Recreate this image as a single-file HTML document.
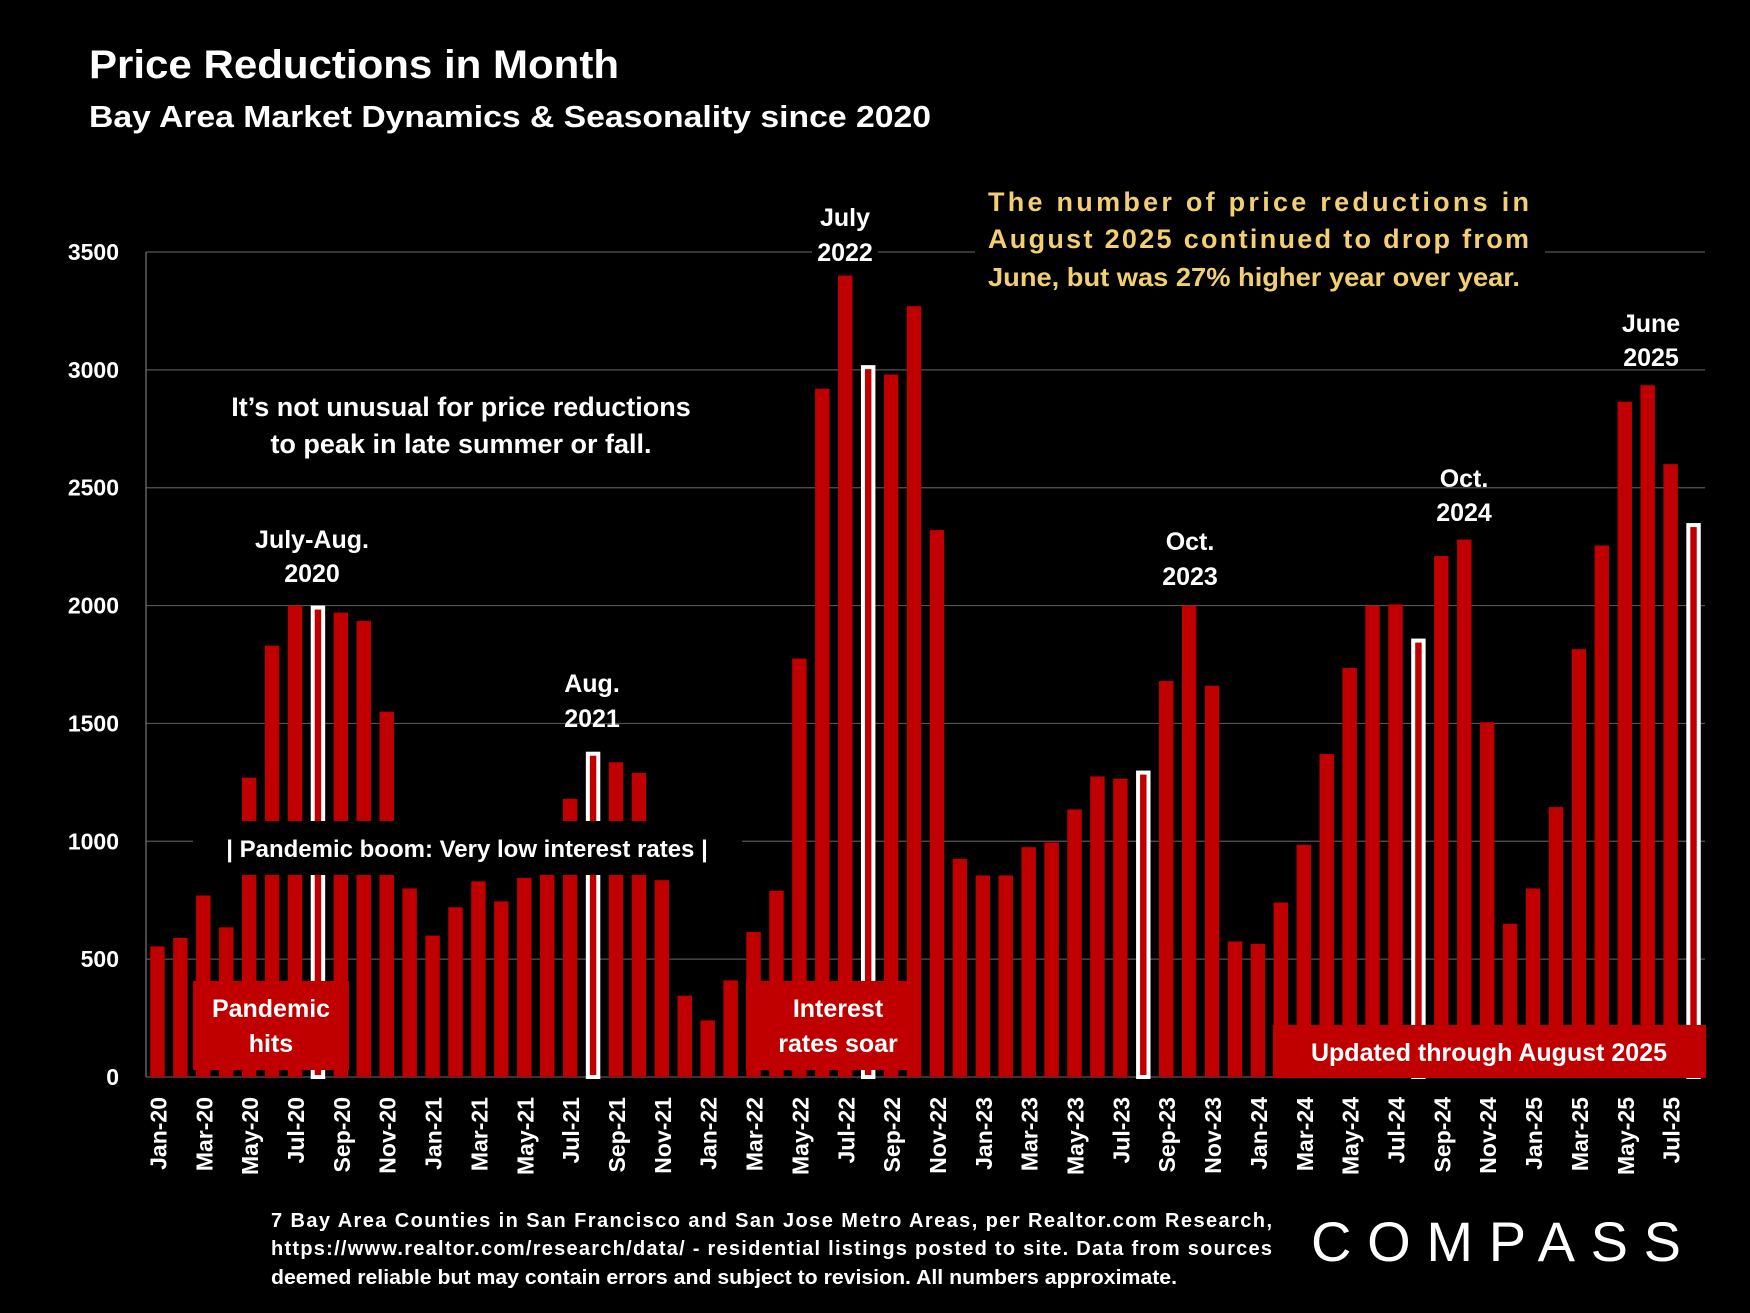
<!DOCTYPE html>
<html><head><meta charset="utf-8"><style>
html,body{margin:0;padding:0;background:#000;}
svg{display:block;font-family:"Liberation Sans",sans-serif;font-weight:bold;}
</style></head><body>
<svg id="chart" width="1750" height="1313" viewBox="0 0 1750 1313" xmlns="http://www.w3.org/2000/svg">
<rect width="1750" height="1313" fill="#000"/>
<text x="89" y="78" font-size="40" fill="#fff" textLength="530" lengthAdjust="spacingAndGlyphs">Price Reductions in Month</text>
<text x="89" y="127" font-size="31" fill="#fff" textLength="842" lengthAdjust="spacingAndGlyphs">Bay Area Market Dynamics &amp; Seasonality since 2020</text>
<g id="grid"></g>
<g id="bars"></g>
<g id="xlabels"></g>
<g id="ylabels"></g>
<g id="annot"></g>
<g font-size="20" fill="#fff">
<text x="271" y="1227" textLength="1001" lengthAdjust="spacing">7 Bay Area Counties in San Francisco and San Jose Metro Areas, per Realtor.com Research,</text>
<text x="271" y="1255" textLength="1001" lengthAdjust="spacing">https://www.realtor.com/research/data/ - residential listings posted to site.  Data from sources</text>
<text x="271" y="1284" textLength="906" lengthAdjust="spacingAndGlyphs">deemed reliable but may contain errors and subject to revision. All numbers approximate.</text>
</g>
<text x="1311" y="1261" font-size="56" font-weight="normal" fill="#fff" textLength="370" lengthAdjust="spacing">COMPASS</text>
</svg>
<script>
const months = ["Jan","Feb","Mar","Apr","May","Jun","Jul","Aug","Sep","Oct","Nov","Dec"];
const categories = [];
for (let y = 20; y <= 25; y++) for (let m = 0; m < 12; m++) { if (y === 25 && m > 7) break; categories.push(months[m] + "-" + y); }
const values2020 = [554, 590, 770, 635, 1270, 1830, 2000, 2000, 1970, 1935, 1550, 800];
const values2021 = [600, 720, 830, 745, 845, 860, 1180, 1380, 1335, 1290, 835, 345];
const values2022 = [240, 410, 615, 790, 1775, 2920, 3400, 3020, 2980, 3270, 2320, 925];
const values2023 = [855, 855, 975, 995, 1135, 1275, 1265, 1300, 1680, 2000, 1660, 575];
const values2024 = [565, 740, 985, 1370, 1735, 2000, 2005, 1860, 2210, 2280, 1505, 650];
const values2025 = [800, 1145, 1815, 2255, 2865, 2935, 2600, 2350];
const values = values2020.concat(values2021, values2022, values2023, values2024, values2025);
const yTicks = [0, 500, 1000, 1500, 2000, 2500, 3000, 3500];

const NS = "http://www.w3.org/2000/svg";
const X0 = 146, X1 = 1705, Y0 = 1077, Y1 = 252, YMAX = 3500;
const slot = (X1 - X0) / categories.length;
function xScale(i) { return X0 + slot * (i + 0.5); }
function yScale(v) { return Y0 - v * (Y0 - Y1) / YMAX; }
function mk(tag, attrs, parent) { const e = document.createElementNS(NS, tag); for (const k in attrs) e.setAttribute(k, attrs[k]); parent.appendChild(e); return e; }

const grid = document.getElementById("grid");
yTicks.forEach(t => {
  const l = mk("line", {x1: X0, x2: X1, y1: yScale(t), y2: yScale(t), stroke: "#555", "stroke-width": 1.2}, grid);
  
  
  const tx = mk("text", {x: 119, y: yScale(t) + 8, "text-anchor": "end", "font-size": 23, fill: "#fff"}, document.getElementById("ylabels"));
  tx.textContent = t;
  
  
});
const ax = mk("line", {x1: X0, x2: X0, y1: Y1, y2: Y0, stroke: "#777", "stroke-width": 1.2}, grid);



const barsG = document.getElementById("bars");
const bw = slot * 0.63;
values.forEach((v, i) => {
  const hl = categories[i].startsWith("Aug");
  const x = xScale(i) - bw / 2, y = yScale(v);
  let r;
  if (hl) r = mk("rect", {x: x + 2, y: y + 2, width: bw - 4, height: Y0 - y - 2, fill: "#c00000", stroke: "#fff", "stroke-width": 4}, barsG);
  else r = mk("rect", {x: x, y: y, width: bw, height: Y0 - y, fill: "#c00000"}, barsG);
  
  
  if (i % 2 === 0) {
    const cx = xScale(i) + 9;
    const t = mk("text", {x: cx, y: 1097, "text-anchor": "end", "font-size": 23, fill: "#fff", transform: "rotate(-90 " + cx + " 1097)"}, document.getElementById("xlabels"));
    t.textContent = categories[i];
    
    
  }
});

const an = document.getElementById("annot");
function txt(s, x, y, size, fill, name, extra) {
  const t = mk("text", Object.assign({x: x, y: y, "text-anchor": "middle", "font-size": size, fill: fill}, extra || {}), an);
  t.textContent = s;
  
  
  return t;
}
function box(x, y, w, h, fill, name) {
  const r = mk("rect", {x: x, y: y, width: w, height: h, fill: fill}, an);
  
  
}
box(193, 821, 549, 54, "#000", "pandemic-boom-band");
txt("| Pandemic boom: Very low interest rates |", 467, 857, 24, "#fff", "pandemic-boom-label");
box(193, 981, 156, 89, "#c00000", "pandemic-hits-box");
txt("Pandemic", 271, 1017, 25, "#fff", "pandemic-hits-label");
txt("hits", 271, 1052, 25, "#fff", "pandemic-hits-label-2");
box(746, 981, 175, 89, "#c00000", "interest-rates-box");
txt("Interest", 838, 1017, 25, "#fff", "interest-rates-label");
txt("rates soar", 838, 1052, 25, "#fff", "interest-rates-label-2");
box(1273, 1025, 433, 53, "#c00000", "updated-box");
txt("Updated through August 2025", 1489, 1061, 25, "#fff", "updated-label");
box(812, 238, 66, 28, "#000", "july-2022-bg");
txt("July", 845, 226, 25, "#fff", "july-2022-label");
txt("2022", 845, 261, 25, "#fff", "july-2022-label-2");
txt("July-Aug.", 312, 548, 25, "#fff", "july-aug-2020-label");
txt("2020", 312, 582, 25, "#fff", "july-aug-2020-label-2");
txt("Aug.", 592, 692, 25, "#fff", "aug-2021-label");
txt("2021", 592, 727, 25, "#fff", "aug-2021-label-2");
txt("Oct.", 1190, 550, 25, "#fff", "oct-2023-label");
txt("2023", 1190, 585, 25, "#fff", "oct-2023-label-2");
txt("Oct.", 1464, 487, 25, "#fff", "oct-2024-label");
txt("2024", 1464, 521, 25, "#fff", "oct-2024-label-2");
txt("June", 1651, 332, 25, "#fff", "june-2025-label");
txt("2025", 1651, 366, 25, "#fff", "june-2025-label-2");
txt("It\u2019s not unusual for price reductions", 461, 416, 27, "#fff", "seasonality-note");
txt("to peak in late summer or fall.", 461, 453, 27, "#fff", "seasonality-note-2");
box(975, 180, 570, 115, "#000", "yellow-note-bg");
txt("The number of price reductions in", 988, 211, 27, "#f2cf72", "yellow-note", {"text-anchor": "start", textLength: 541, lengthAdjust: "spacing"});
txt("August 2025 continued to drop from", 988, 248, 27, "#f2cf72", "yellow-note-2", {"text-anchor": "start", textLength: 541, lengthAdjust: "spacing"});
txt("June, but was 27% higher year over year.", 988, 286, 26, "#f2cf72", "yellow-note-3", {"text-anchor": "start", textLength: 532, lengthAdjust: "spacingAndGlyphs"});
</script>
</body></html>
